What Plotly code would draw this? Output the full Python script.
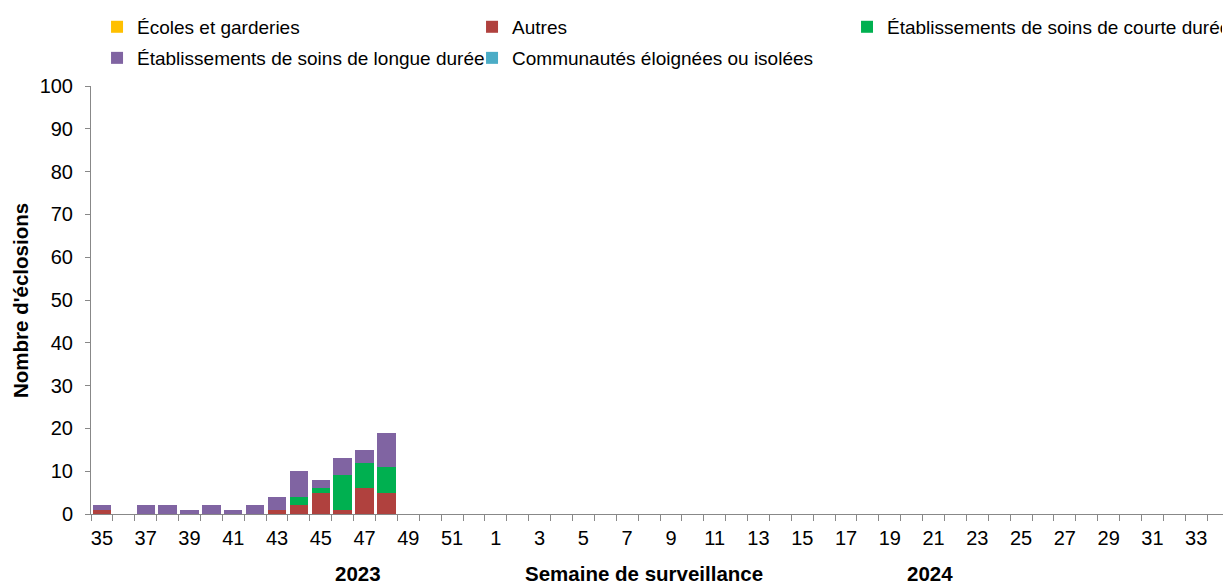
import plotly.graph_objects as go

weeks = [str(w) for w in list(range(35, 53)) + list(range(1, 35))]
ecoles = [0] * 52
autres = [1, 0, 0, 0, 0, 0, 0, 0, 1, 2, 5, 1, 6, 5] + [0] * 38
courte = [0, 0, 0, 0, 0, 0, 0, 0, 0, 2, 1, 8, 6, 6] + [0] * 38
longue = [1, 0, 2, 2, 1, 2, 1, 2, 3, 6, 2, 4, 3, 8] + [0] * 38
communautes = [0] * 52

series = [
    ("Écoles et garderies", ecoles, "#FFC000", "legend"),
    ("Autres", autres, "#B0413E", "legend"),
    ("Établissements de soins de courte durée", courte, "#00B050", "legend"),
    ("Établissements de soins de longue durée", longue, "#8064A2", "legend2"),
    ("Communautés éloignées ou isolées", communautes, "#4BACC6", "legend2"),
]

xpos = list(range(len(weeks)))
fig = go.Figure()
for name, vals, color, lg in series:
    fig.add_trace(go.Bar(x=xpos, y=vals, name=name, marker_color=color,
                         marker_line_width=0, legend=lg))

FONT = "Liberation Sans, Arial, sans-serif"
legend_common = dict(orientation="h", x=0.0053, xanchor="left", yanchor="middle",
                     entrywidth=330, entrywidthmode="pixels", traceorder="normal",
                     font=dict(size=19), itemwidth=30, bgcolor="rgba(0,0,0,0)")
fig.update_layout(
    width=1223, height=577,
    barmode="stack", bargap=0.16,
    plot_bgcolor="white", paper_bgcolor="white",
    margin=dict(l=83, r=2, t=78, b=71, autoexpand=False),
    font=dict(family=FONT, size=19, color="black"),
    showlegend=True,
    legend=dict(y=1.138, **legend_common),
    legend2=dict(y=1.0654, **legend_common),
    xaxis=dict(range=[-0.5, 51.5], tickmode="array", tickvals=xpos[::2],
               ticktext=weeks[::2], ticks="", showgrid=False, zeroline=False,
               showline=True, linecolor="#888888", linewidth=1,
               tickfont=dict(size=20), ticklabelstandoff=6,
               minor=dict(tickmode="array", tickvals=[i - 0.5 for i in range(53)],
                          ticks="outside", ticklen=6, tickcolor="#888888")),
    yaxis=dict(range=[0, 100], dtick=10, ticks="outside", ticklen=5,
               tickcolor="#888888", showgrid=False, zeroline=False,
               showline=True, linecolor="#888888", linewidth=1,
               tickfont=dict(size=20), ticklabelstandoff=8),
    annotations=[
        dict(text="<b>Nombre d'éclosions</b>", textangle=-90, xref="paper", yref="paper",
             x=-0.0624, y=0.5, xanchor="center", yanchor="middle",
             showarrow=False, font=dict(size=20.5)),
        dict(text="<b>Semaine de surveillance</b>", xref="paper", yref="paper",
             x=0.486, y=-0.140, xanchor="center", yanchor="middle",
             showarrow=False, font=dict(size=20.5)),
        dict(text="<b>2023</b>", xref="paper", yref="paper",
             x=0.2346, y=-0.140, xanchor="center", yanchor="middle",
             showarrow=False, font=dict(size=20.5)),
        dict(text="<b>2024</b>", xref="paper", yref="paper",
             x=0.737, y=-0.140, xanchor="center", yanchor="middle",
             showarrow=False, font=dict(size=20.5)),
    ],
)
fig.write_html("out.html")
